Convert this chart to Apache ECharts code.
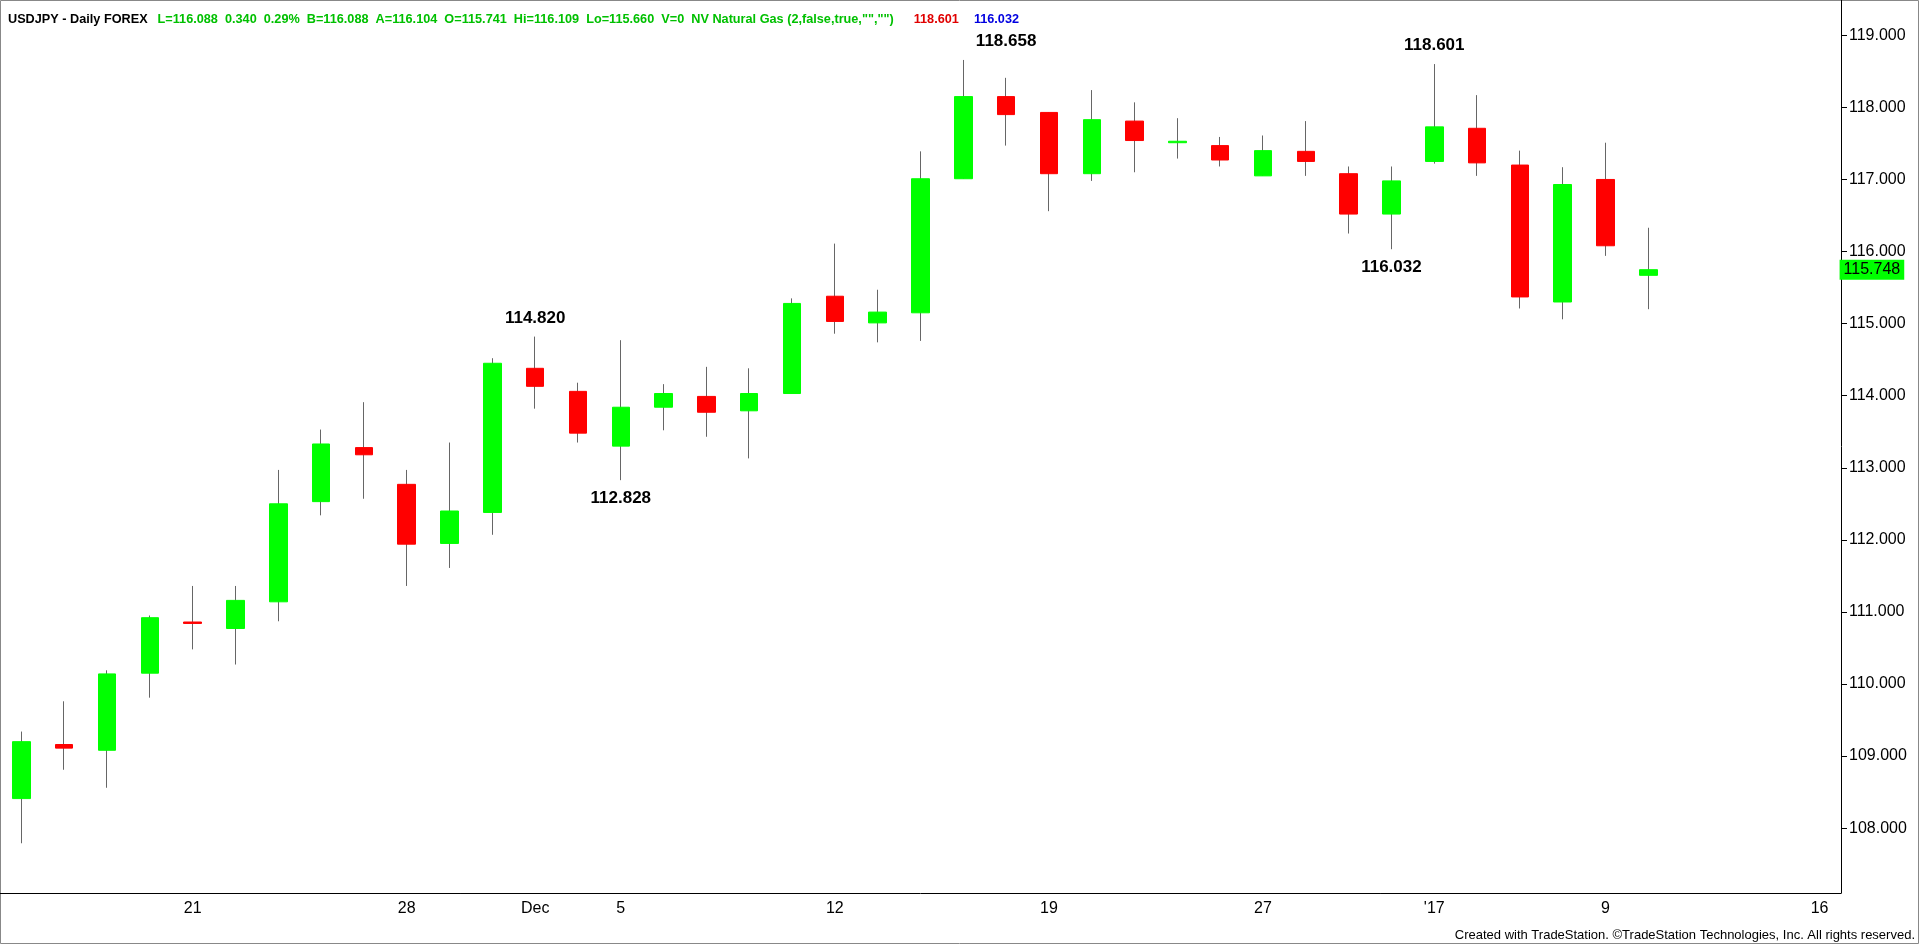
<!DOCTYPE html>
<html><head><meta charset="utf-8">
<script src="https://cdn.jsdelivr.net/npm/echarts@6/dist/echarts.min.js"></script>
<style>html,body{margin:0;padding:0;background:#fff}#c{width:1920px;height:945px}</style>
</head><body><div id="c"></div>
<script>
const dates=['11/15','11/16','11/17','11/18','11/21','11/22','11/23','11/24','11/25','11/28','11/29','11/30','12/1','12/2','12/5','12/6','12/7','12/8','12/9','12/12','12/13','12/14','12/15','12/16','12/19','12/20','12/21','12/22','12/23','12/27','12/28','12/29','12/30','1/3','1/4','1/5','1/6','1/9','1/10','1/11','1/12','1/13','1/16'];
const opens =[108.41,109.16,109.08,110.15,110.86,110.77,111.14,112.53,113.28,112.77,111.95,112.38,114.38,114.06,113.30,113.84,113.99,113.79,114.03,115.38,115.01,115.15,117.01,118.15,117.93,117.08,117.81,117.51,117.47,117.05,117.39,117.08,116.52,117.25,117.71,117.20,115.30,117.00,115.67];
const closes=[109.20,109.11,110.14,110.92,110.84,111.16,112.50,113.33,113.18,111.94,112.40,114.45,114.13,113.48,113.84,114.03,113.77,114.03,115.28,115.03,115.16,117.01,118.15,117.90,117.08,117.83,117.54,117.53,117.27,117.40,117.25,116.52,116.98,117.73,117.23,115.37,116.93,116.08,115.748];
const highs =[109.34,109.76,110.19,110.95,111.36,111.36,112.97,113.53,113.91,112.97,113.35,114.52,114.82,114.18,114.77,114.16,114.40,114.38,115.35,116.11,115.47,117.39,118.658,118.41,117.93,118.24,118.07,117.85,117.59,117.61,117.81,117.18,117.18,118.601,118.17,117.40,117.17,117.51,116.33];
const lows  =[107.79,108.81,108.56,109.81,110.48,110.27,110.87,112.34,112.57,111.36,111.61,112.07,113.82,113.35,112.828,113.52,113.43,113.13,114.03,114.86,114.74,114.76,117.01,117.47,116.56,116.98,117.10,117.29,117.18,117.05,117.05,116.25,116.032,117.22,117.05,115.21,115.06,115.94,115.20];
const xLabels={4:'21',9:'28',12:'Dec',14:'5',19:'12',24:'19',29:'27',33:"'17",37:'9',42:'16'};
const yTicks=[108,109,110,111,112,113,114,115,116,117,118,119];
const lastPrice=115.748;
const notes=[{i:23,v:118.658,t:'118.658',up:true},{i:12,v:114.82,t:'114.820',up:true},{i:14,v:112.828,t:'112.828',up:false},{i:33,v:118.601,t:'118.601',up:true},{i:32,v:116.032,t:'116.032',up:false}];

const wick=opens.map((o,i)=>[o,closes[i],lows[i],highs[i]]);
const body=opens.map((o,i)=>[o,closes[i],Math.min(o,closes[i]),Math.max(o,closes[i])]);
const F='Liberation Sans';
const chart=echarts.init(document.getElementById('c'));
chart.setOption({
 animation:false,backgroundColor:'#fff',
 title:{left:3,top:5,text:'{k|USDJPY - Daily FOREX}  {g|L=116.088  0.340  0.29%  B=116.088  A=116.104  O=115.741  Hi=116.109  Lo=115.660  V=0  NV Natural Gas (2,false,true,"","")}    {r|118.601}   {b|116.032}',
  textStyle:{rich:{k:{fontSize:12.7,color:'#000',fontFamily:F},g:{fontSize:12.7,color:'#00c000',fontFamily:F},r:{fontSize:12.7,color:'#e00000',fontFamily:F},b:{fontSize:12.7,color:'#0000e0',fontFamily:F}}}},
 graphic:[{type:'text',right:5,bottom:3,style:{text:'Created with TradeStation. ©TradeStation Technologies, Inc. All rights reserved.',fontSize:13,fill:'#000',fontFamily:F}},
  {type:'rect',shape:{x:0.5,y:0.5,width:1918,height:943},style:{fill:'none',stroke:'#888'}}],
 grid:{left:-3,top:0,width:1844,height:893},
 xAxis:{type:'category',data:dates,boundaryGap:true,
  axisLine:{lineStyle:{color:'#000'}},axisTick:{show:false},
  axisLabel:{interval:0,color:'#000',fontSize:16,margin:8,fontFamily:F,formatter:(v,i)=>xLabels[i]||''},splitLine:{show:false}},
 yAxis:{type:'value',position:'right',min:107.1,max:119.49,scale:true,
  axisLine:{show:true,lineStyle:{color:'#000'}},axisTick:{show:true,customValues:yTicks,length:6,lineStyle:{color:'#000'}},
  axisLabel:{customValues:yTicks,color:'#000',fontSize:16,margin:8,fontFamily:F,formatter:v=>v.toFixed(3)},splitLine:{show:false}},
 series:[
  {type:'candlestick',data:wick,barWidth:1,itemStyle:{color:'#666',color0:'#666',borderColor:'#666',borderColor0:'#666',borderWidth:1},z:1},
  {type:'candlestick',data:body,barWidth:18,itemStyle:{color:'#00ff00',color0:'#ff0000',borderColor:'#00ff00',borderColor0:'#ff0000',borderWidth:1},z:2,
   markPoint:{symbol:'circle',symbolSize:0,data:notes.map(n=>({coord:[n.i,n.v],label:{show:true,formatter:n.t,position:n.up?'top':'bottom',distance:10,fontSize:17,fontWeight:'bold',color:'#000',fontFamily:F}})).concat([
     {coord:[dates.length-1,lastPrice],label:{show:true,formatter:lastPrice.toFixed(3),position:'right',distance:20,backgroundColor:'#00ff00',color:'#000',padding:[2,4],fontSize:16,fontFamily:F}}])}}
 ]
});
</script></body></html>
